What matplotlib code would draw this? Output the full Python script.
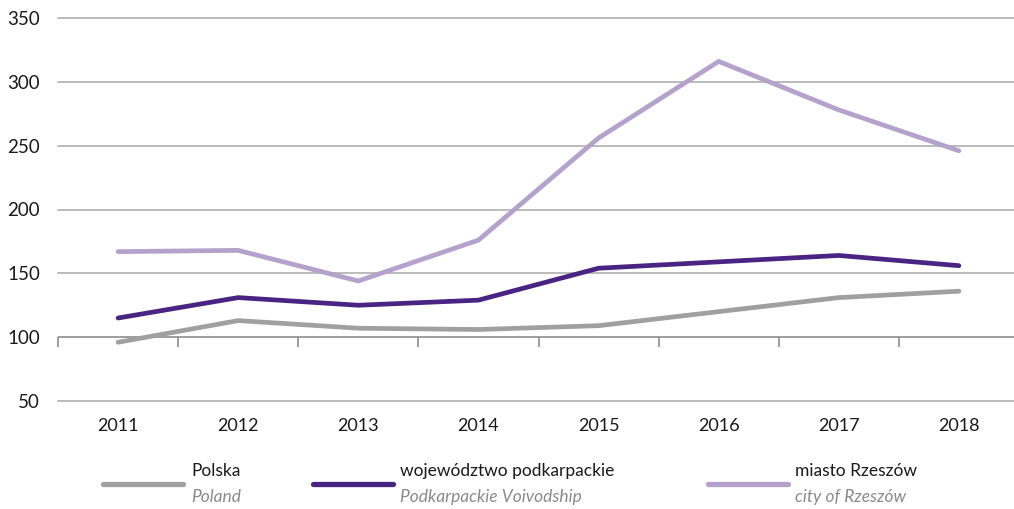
import matplotlib
matplotlib.use("Agg")
import matplotlib.pyplot as plt
from matplotlib.lines import Line2D

plt.rcParams['font.family'] = ['Lato', 'DejaVu Sans']

years = ["2011", "2012", "2013", "2014", "2015", "2016", "2017", "2018"]
polska = [96, 113, 107, 106, 109, 120, 131, 136]
podkarpackie = [115, 131, 125, 129, 154, 159, 164, 156]
rzeszow = [167, 168, 144, 176, 256, 316, 278, 246]

names_pl = ["Polska", "województwo podkarpackie", "miasto Rzeszów"]
names_en = ["Poland", "Podkarpackie Voivodship", "city of Rzeszów"]
colors = ["#a0a0a0", "#4a2483", "#b4a2cc"]
series = [polska, podkarpackie, rzeszow]

yticks = [50, 100, 150, 200, 250, 300, 350]

fig = plt.figure(figsize=(10.14, 5.09), dpi=100)
ax = fig.add_axes([58 / 1014, 1 - 401 / 509, 961 / 1014, 383 / 509])

x = list(range(len(years)))
ax.set_xlim(-0.5, len(years) - 0.5)
ax.set_ylim(min(yticks), max(yticks))

for v in yticks:
    if v == 100:
        continue
    ax.axhline(v, color="#a8a8a8", lw=1.1, zorder=1, clip_on=False)

# category axis crossing at 100 with boundary tick marks
ax.axhline(100, color="#8c8c8c", lw=1.2, zorder=1)
bounds = [i - 0.5 for i in range(len(years) + 1)]
ax.vlines(bounds, 92.5, 100, color="#8c8c8c", lw=1.2, zorder=1, clip_on=False)

for vals, c in zip(series, colors):
    ax.plot(x, vals, color=c, lw=3.4, solid_capstyle="round",
            solid_joinstyle="miter", zorder=3)

for s in ax.spines.values():
    s.set_visible(False)
ax.set_yticks(yticks)
ax.set_yticklabels([str(v) for v in yticks], fontsize=13.5, color="#1a1a1a")
ax.tick_params(axis="y", length=0, pad=13)
ax.set_xticks(x)
ax.set_xticklabels(years, fontsize=13, color="#1a1a1a")
ax.tick_params(axis="x", length=0, pad=12)

# legend drawn in figure pixels
legend_items = [(103, 183, 191), (313, 393, 400), (708, 788, 795)]
for (x0, x1, tx), c, pl, en in zip(legend_items, colors, names_pl, names_en):
    fig.add_artist(Line2D([x0 / 1014, x1 / 1014], [1 - 484 / 509] * 2,
                          color=c, lw=3.8, solid_capstyle="round"))
    fig.text(tx / 1014, 1 - 471 / 509, pl, fontsize=12.5, color="#1a1a1a",
             va="center", ha="left")
    fig.text(tx / 1014, 1 - 497 / 509, en, fontsize=12.5, color="#8a8a8a",
             style="italic", va="center", ha="left")

fig.savefig("out.png", dpi=100)
